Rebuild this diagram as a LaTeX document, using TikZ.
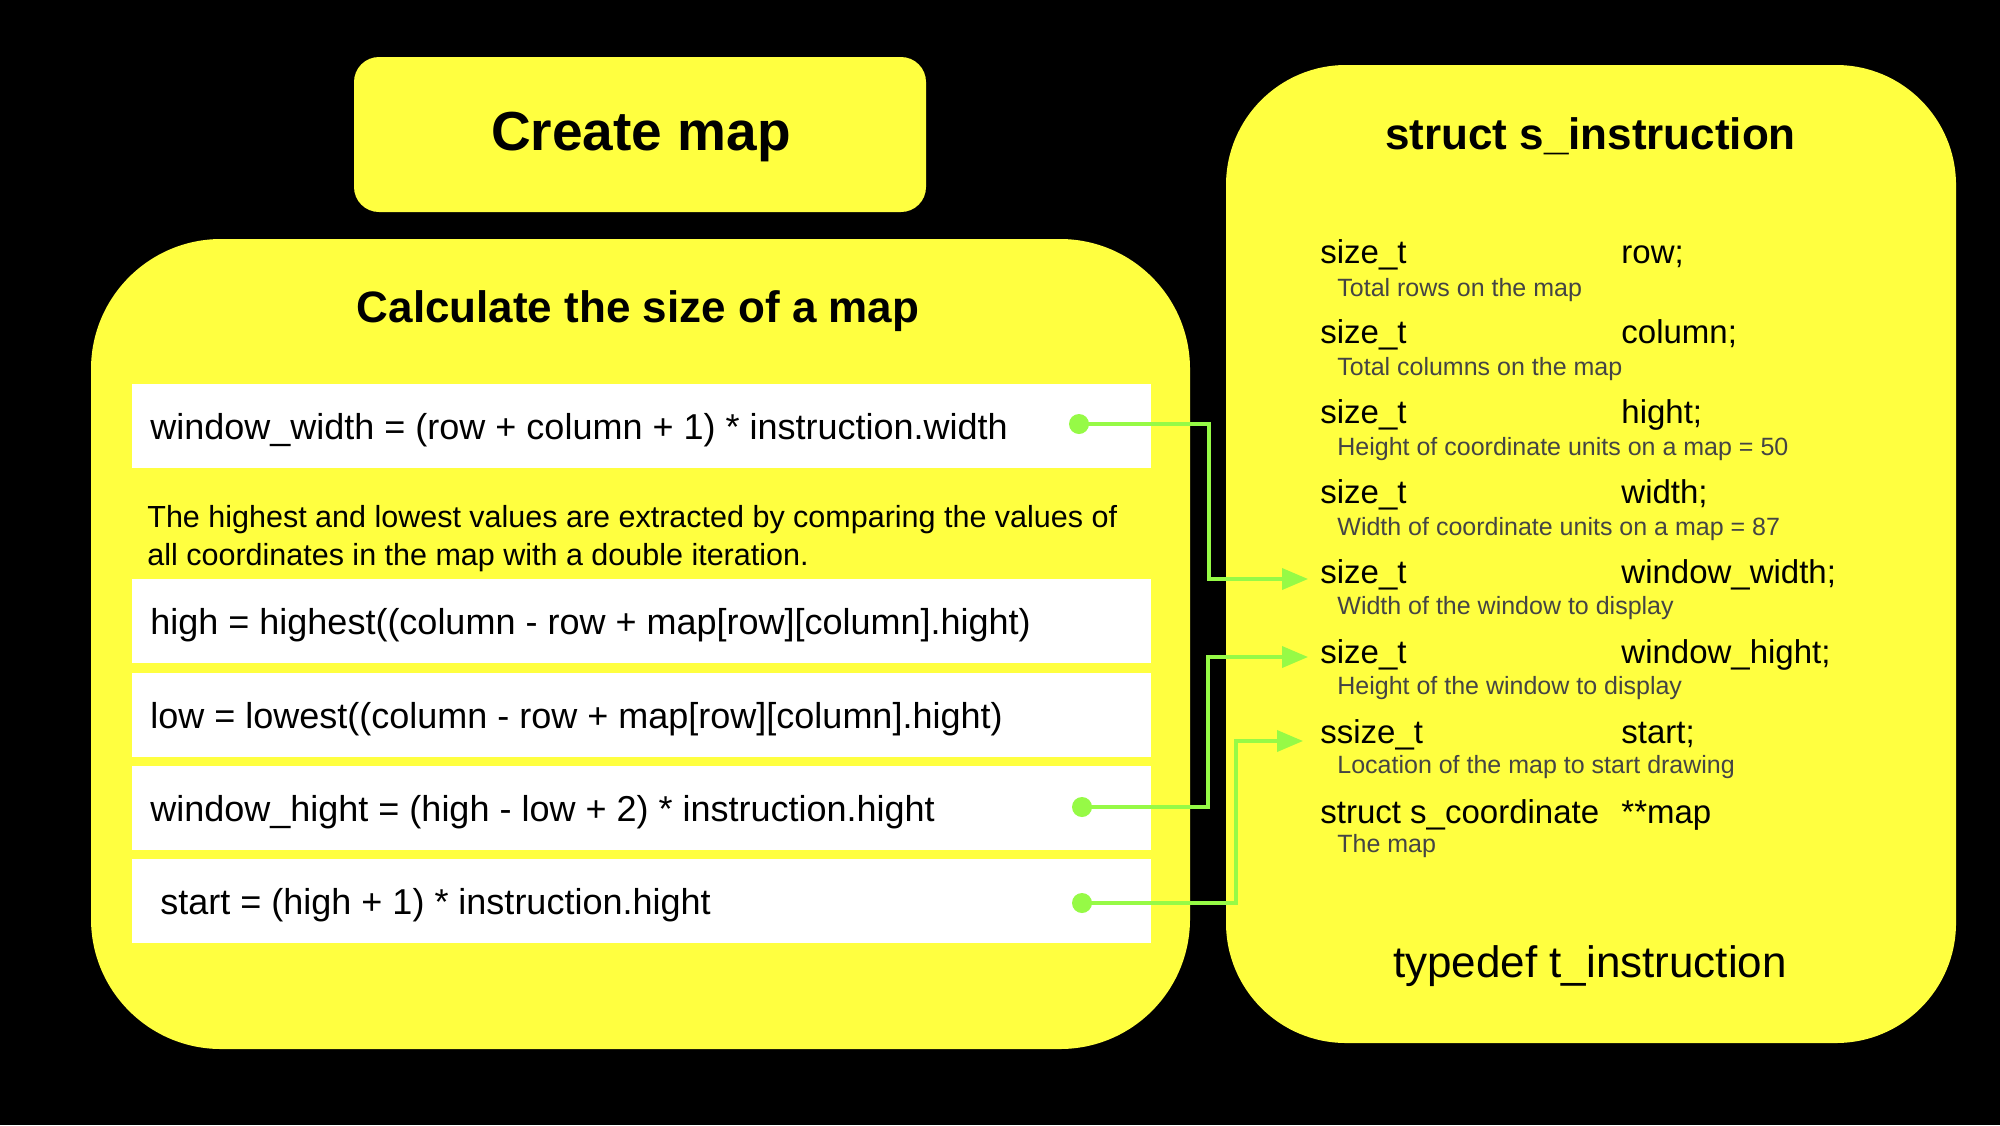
\documentclass[tikz,border=0pt]{standalone}
\usepackage{fontspec}
\setmainfont{Liberation Sans}
\usetikzlibrary{arrows.meta}
\definecolor{ybox}{RGB}{255,255,64}
\definecolor{gline}{RGB}{150,250,70}
\definecolor{dgray}{RGB}{68,68,68}
\newcommand\myfs[1]{\fontsize{#1}{1.2\dimexpr#1\relax}\selectfont}
\begin{document}
\begin{tikzpicture}[x=0.5pt,y=-0.5pt,
  bigbox/.style={fill=ybox, draw=none, inner sep=0},
  rowbox/.style={fill=white, draw=none, minimum width=509.5pt, minimum height=42pt, inner sep=0},
  code/.style={anchor=base west, inner sep=0, font=\myfs{18pt}},
  para/.style={anchor=base west, inner sep=0, font=\myfs{15.25pt}},
  typ/.style={anchor=base west, inner sep=0, font=\myfs{16.5pt}},
  desc/.style={anchor=base west, inner sep=0, font=\myfs{12.5pt}, text=dgray},
  ttl/.style={anchor=base, inner sep=0, font=\bfseries\myfs{22pt}},
  dot/.style={circle, fill=gline, minimum size=10pt, inner sep=0},
  conn/.style={draw=gline, line width=1.8pt, -{Triangle[length=13pt,width=10.5pt]}}]
\fill[black] (0,0) rectangle (2000,1125);
\useasboundingbox (0,0) rectangle (2000,1125);

% boxes
\node[bigbox, rounded corners=12.5pt, minimum width=286pt, minimum height=77.5pt] (create) at (640,134.5) {};
\node[bigbox, rounded corners=65pt, minimum width=549.5pt, minimum height=405pt] (calc) at (640.5,644) {};
\node[bigbox, rounded corners=60pt, minimum width=365pt, minimum height=489pt] (inst) at (1591,554) {};

% titles
\node[ttl, font=\bfseries\myfs{27.5pt}] (tcreate) at (641,150) {Create map};
\node[ttl] (tcalc) at (638,322) {Calculate the size of a map};
\node[ttl] (tinst) at (1590.5,149) {struct s\_instruction};
\node[anchor=base, inner sep=0, font=\myfs{22pt}] (ttype) at (1590,977) {typedef t\_instruction};

% rows
\node[rowbox] (r1) at (641.5,426) {};
\node[rowbox] (r2) at (641.5,621) {};
\node[rowbox] (r3) at (641.5,715) {};
\node[rowbox] (r4) at (641.5,808) {};
\node[rowbox] (r5) at (641.5,901) {};

\node[code] (c1) at (150,439) {window\_width = (row + column + 1) * instruction.width};
\node[para] (p1) at (147,527) {The highest and lowest values are extracted by comparing the values of};
\node[para] (p2) at (147,565) {all coordinates in the map with a double iteration.};
\node[code] (c2) at (150,634) {high = highest((column - row + map[row][column].hight)};
\node[code] (c3) at (150,728) {low = lowest((column - row + map[row][column].hight)};
\node[code] (c4) at (150,821) {window\_hight = (high - low + 2) * instruction.hight};
\node[code] (c5) at (160,914) {start = (high + 1) * instruction.hight};

% struct members
\node[typ] (ty1) at (1320,263) {size\_t};
\node[typ] (nm1) at (1621,263) {row;};
\node[desc] (ds1) at (1337,296) {Total rows on the map};
\node[typ] (ty2) at (1320,343) {size\_t};
\node[typ] (nm2) at (1621,343) {column;};
\node[desc] (ds2) at (1337,375) {Total columns on the map};
\node[typ] (ty3) at (1320,423) {size\_t};
\node[typ] (nm3) at (1621,423) {hight;};
\node[desc] (ds3) at (1337,455) {Height of coordinate units on a map = 50};
\node[typ] (ty4) at (1320,503) {size\_t};
\node[typ] (nm4) at (1621,503) {width;};
\node[desc] (ds4) at (1337,535) {Width of coordinate units on a map = 87};
\node[typ] (ty5) at (1320,583) {size\_t};
\node[typ] (nm5) at (1621,583) {window\_width;};
\node[desc] (ds5) at (1337,614) {Width of the window to display};
\node[typ] (ty6) at (1320,663) {size\_t};
\node[typ] (nm6) at (1621,663) {window\_hight;};
\node[desc] (ds6) at (1337,694) {Height of the window to display};
\node[typ] (ty7) at (1320,743) {ssize\_t};
\node[typ] (nm7) at (1621,743) {start;};
\node[desc] (ds7) at (1337,773) {Location of the map to start drawing};
\node[typ] (ty8) at (1320,823) {struct s\_coordinate};
\node[typ] (nm8) at (1621,823) {**map};
\node[desc] (ds8) at (1337,852) {The map};

% dots and connectors
\node[dot] (d1) at (1079,424) {};
\node[dot] (d2) at (1082,807) {};
\node[dot] (d3) at (1082,903) {};
\coordinate (k1) at (1209,579);
\coordinate (k2) at (1208,657);
\coordinate (k3) at (1236,741);
\coordinate (t1) at (1308,579);
\coordinate (t2) at (1308,657);
\coordinate (t3) at (1303,741);
\draw[conn] (d1.center) -| (k1) -- (t1);
\draw[conn] (d2.center) -| (k2) -- (t2);
\draw[conn] (d3.center) -| (k3) -- (t3);
\end{tikzpicture}
\end{document}
